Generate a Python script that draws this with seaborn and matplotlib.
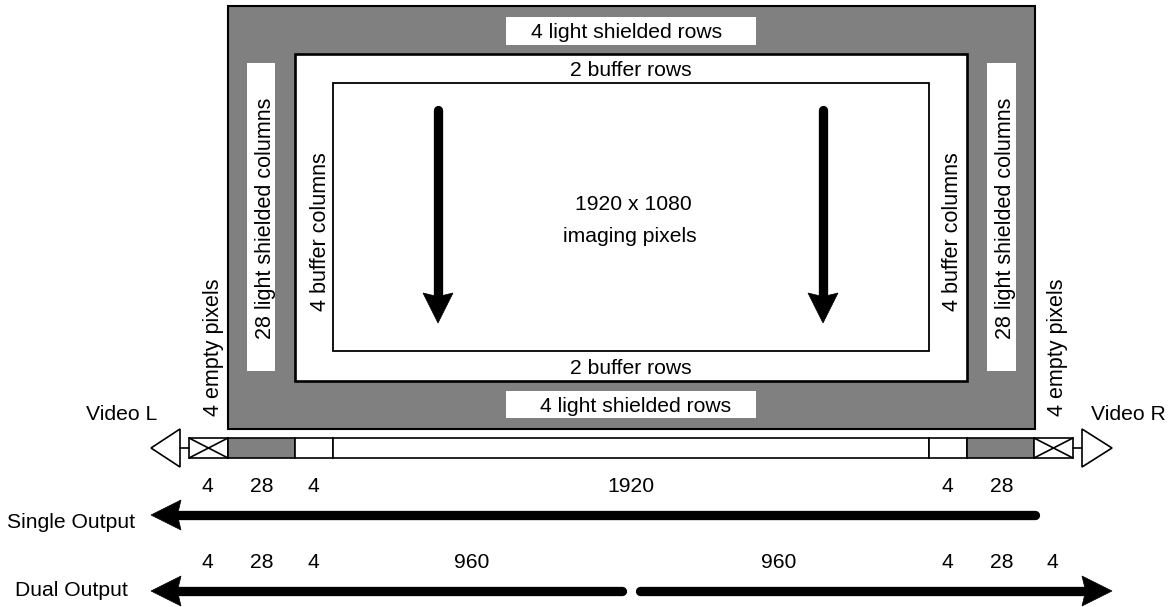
import matplotlib
matplotlib.use("Agg")
import matplotlib.pyplot as plt
from matplotlib.patches import Rectangle, Polygon
import seaborn as sns

sns.set_theme(style="white")
plt.rcParams['font.family'] = ['Liberation Sans', 'DejaVu Sans']

GREY = "#808080"
FS = 15.2
FS_V = 15.5

# pixel map of the sensor layout (the reference is a schematic, not to scale)
strip_edges = [189, 228, 295, 333, 929, 967, 1034, 1073]
strip_colors = ["white", GREY, "white", "white", "white", GREY, "white"]
strip_y = (438, 458)

# x, y, label
horizontal_labels = [
    (627, 32, "4 light shielded rows"),
    (630.5, 70, "2 buffer rows"),
    (630.5, 368, "2 buffer rows"),
    (636, 406, "4 light shielded rows"),
    (633, 204, "1920 x 1080"),
    (630, 236, "imaging pixels"),
    (122, 414, "Video L"),
    (1128, 414, "Video R"),
]
vertical_labels = [
    (265, 218, "28 light shielded columns"),
    (1006, 218, "28 light shielded columns"),
    (320, 232, "4 buffer columns"),
    (952, 232, "4 buffer columns"),
    (213, 347, "4 empty pixels"),
    (1057, 347, "4 empty pixels"),
]
single_x = [207, 262, 313, 631, 947, 1002]
single_counts = ["4", "28", "4", "1920", "4", "28"]
dual_x = [207, 262, 313, 472, 779, 947, 1002, 1052]
dual_counts = ["4", "28", "4", "960", "960", "4", "28", "4"]


def box(ax, x0, y0, x1, y1, fc="white", ec="black", lw=1.4):
    ax.add_patch(Rectangle((x0, y0), x1 - x0, y1 - y0, facecolor=fc, edgecolor=ec, linewidth=lw))


def arrow(ax, x0, y0, x1, y1, width=6.7, head_len=30, head_half=15):
    # thick round capped shaft, then a solid triangular head ending at (x1, y1)
    dx = (x1 > x0) - (x1 < x0)
    dy = (y1 > y0) - (y1 < y0)
    notch = head_len * 0.88
    ax.plot([x0, x1 - dx * notch], [y0, y1 - dy * notch], color="black",
            linewidth=width, solid_capstyle="round", zorder=4)
    bx, by = x1 - dx * head_len, y1 - dy * head_len
    ax.add_patch(Polygon([(x1, y1), (bx - dy * head_half, by - dx * head_half),
                          (x1 - dx * notch, y1 - dy * notch),
                          (bx + dy * head_half, by + dx * head_half)],
                         closed=True, facecolor="black", edgecolor="black", linewidth=0.5, zorder=5))


fig, ax = plt.subplots(figsize=(11.7, 6.07), dpi=100)
fig.subplots_adjust(left=0, right=1, bottom=0, top=1)
ax.set_xlim(0, 1170)
ax.set_ylim(607, 0)
ax.axis("off")

# sensor area
box(ax, 227.5, 6, 1034.5, 429, fc=GREY, lw=1.5)
box(ax, 295, 54, 967, 381, lw=1.9)
box(ax, 333, 83, 929, 351, lw=1.3)
for x0, y0, x1, y1 in [(506, 17, 756, 45), (506, 391, 756, 418), (247, 63, 275, 371), (987, 63, 1016, 371)]:
    box(ax, x0, y0, x1, y1, ec="white", lw=0)

# readout strip
for left, right, color in zip(strip_edges[:-1], strip_edges[1:], strip_colors):
    box(ax, left, strip_y[0], right, strip_y[1], fc=color, lw=1.2)
for left, right in [(189, 228), (1034, 1073)]:
    ax.plot([left, right], strip_y, color="black", linewidth=1.2)
    ax.plot([left, right], strip_y[::-1], color="black", linewidth=1.2)

# output amplifiers
ax.add_patch(Polygon([(151, 448), (180, 429), (180, 467)], closed=True, fc="white", ec="black", lw=1.2))
ax.add_patch(Polygon([(1112, 448), (1082, 429), (1082, 467)], closed=True, fc="white", ec="black", lw=1.2))
ax.plot([180, 189], [448, 448], color="black", linewidth=1.2)
ax.plot([1073, 1082], [448, 448], color="black", linewidth=1.2)

# shift direction arrows
arrow(ax, 438, 110, 438, 323)
arrow(ax, 823, 110, 823, 323)
arrow(ax, 1035, 515, 151, 515)
arrow(ax, 622, 591, 151, 591)
arrow(ax, 640, 591, 1112, 591)

for x, y, label in horizontal_labels:
    ax.text(x, y, label, ha="center", va="center", fontsize=FS, color="black")
for x, y, label in vertical_labels:
    ax.text(x, y, label, ha="center", va="center", rotation=90, fontsize=FS_V, color="black")
for x, label in zip(single_x, single_counts):
    ax.text(x, 486, label, ha="center", va="center", fontsize=FS, color="black")
for x, label in zip(dual_x, dual_counts):
    ax.text(x, 563, label, ha="center", va="center", fontsize=FS, color="black")
ax.text(7, 522, "Single Output", ha="left", va="center", fontsize=FS, color="black")
ax.text(15, 590, "Dual Output", ha="left", va="center", fontsize=FS, color="black")

fig.savefig("out.png", dpi=100)
